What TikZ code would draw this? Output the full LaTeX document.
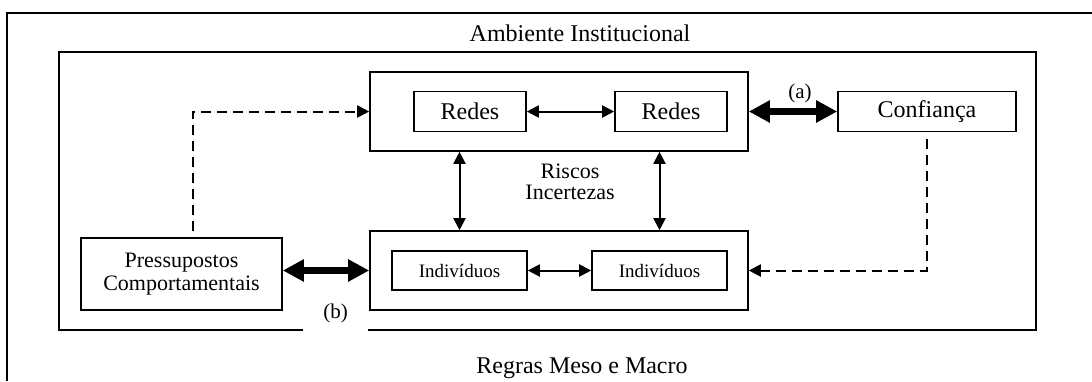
\documentclass[tikz,border=0pt]{standalone}
\usepackage{fontspec}
\setmainfont{Liberation Serif}
\usetikzlibrary{arrows.meta,calc}

\tikzset{
  box/.style={draw, line width=1.6pt, inner sep=0pt, align=center},
  link/.style={line width=2pt, {Triangle[length=12pt,width=12pt]}-{Triangle[length=12pt,width=12pt]}},
  biglink/.style={line width=6.5pt, {Triangle[length=21pt,width=21pt]}-{Triangle[length=21pt,width=21pt]}},
  dashlink/.style={line width=2pt, dash pattern=on 10pt off 6pt, -{Triangle[length=12pt,width=12pt]}},
  big/.style={font=\fontsize{24}{28}\selectfont},
  mid/.style={font=\fontsize{22}{23}\selectfont},
  small/.style={font=\fontsize{19}{22}\selectfont},
}

\begin{document}
\begin{tikzpicture}[x=1pt, y=-1pt]
  \useasboundingbox (0,0) rectangle (1092,381);

  % frames
  \draw[line width=1.8pt] (7,381) -- (7,13) -- (1092,13);
  \draw[line width=1.6pt] (59,52) rectangle (1036,330);
  \node[big] (ambiente) at (580,33) {Ambiente Institucional};
  \node[big, inner sep=1pt] (regras) at (582,368) {Regras Meso e Macro};

  % upper group
  \node[box, minimum width=378, minimum height=79] (upper) at (559,111.5) {};
  \node[box, big, minimum width=112, minimum height=40] (redesA) at (470,111.5) {Redes};
  \node[box, big, minimum width=112, minimum height=40] (redesB) at (671,111.5) {Redes};
  \node[box, big, minimum width=178, minimum height=40] (conf)   at (927,111.5) {Confiança};

  % lower group
  \node[box, minimum width=378, minimum height=79] (low) at (559,270.5) {};
  \node[box, small, minimum width=135, minimum height=39] (indA) at (459.5,270.5) {Indivíduos};
  \node[box, small, minimum width=135, minimum height=39] (indB) at (659.5,270.5) {Indivíduos};
  \node[box, mid, minimum width=201, minimum height=72] (press) at (181.5,274) {Pressupostos\\Comportamentais};

  \node[font=\fontsize{22}{21}\selectfont, align=center] (riscos) at (570,182) {Riscos\\Incertezas};
  \node[font=\fontsize{21}{24}\selectfont] (lbla) at (800,93) {(a)};
  \node[font=\fontsize{21}{24}\selectfont, fill=white, inner sep=0pt,
        minimum width=65, minimum height=42] (lblb) at (335.5,313) {(b)};

  \coordinate (lcorner) at (193,111.5);

  % connectors
  \draw[link] (redesA) -- (redesB);
  \draw[link] (indA) -- (indB);
  \draw[link] (indA |- upper.south) -- (indA |- low.north);
  \draw[link] (indB |- upper.south) -- (indB |- low.north);
  \draw[biglink] (upper) -- (conf);
  \draw[biglink] (press.east |- low.west) -- (low.west);
  \draw[dashlink, shorten <=6pt] (press.north -| lcorner) -- (lcorner) -- (upper.west);
  \draw[dashlink, shorten <=7pt] (conf.south) -- (conf.south |- low.east) -- (low.east);
\end{tikzpicture}
\end{document}
